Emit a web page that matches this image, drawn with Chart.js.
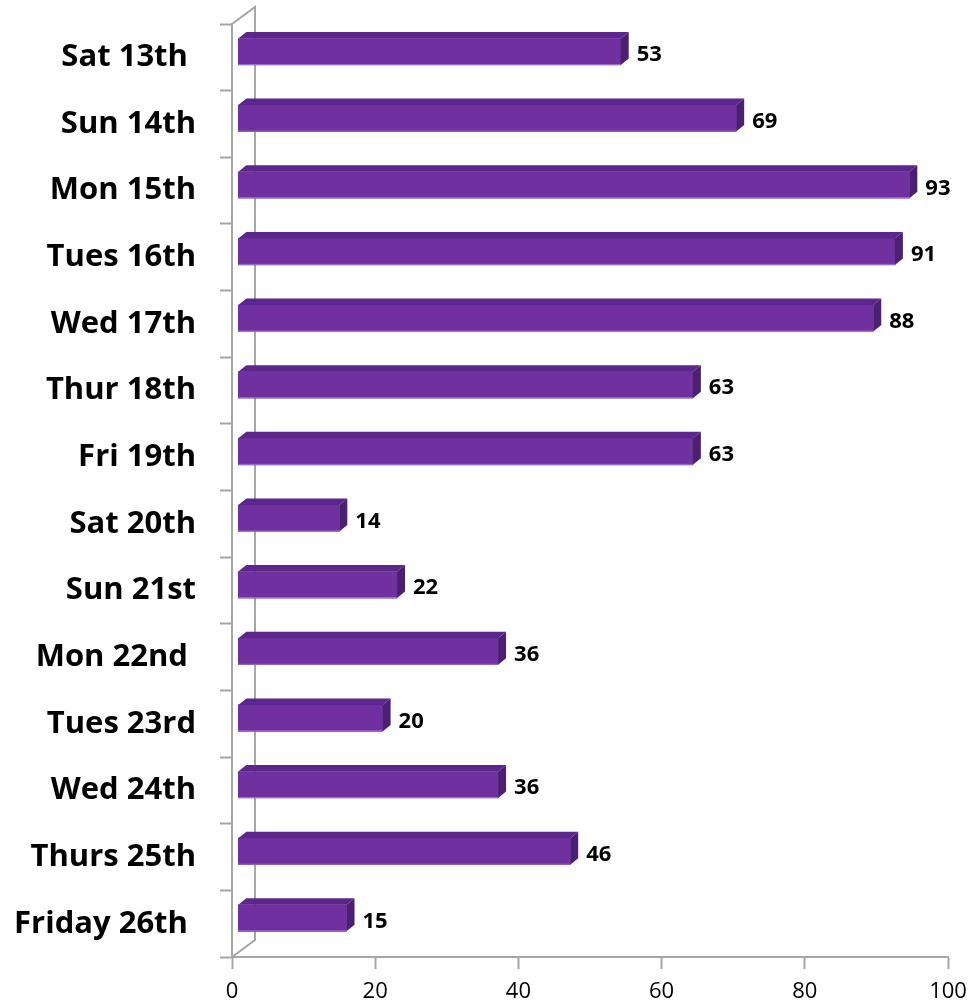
<!DOCTYPE html>
<html>
<head>
<meta charset="utf-8">
<title>Daily count</title>
<script src="https://cdn.jsdelivr.net/npm/chart.js@4/dist/chart.umd.min.js"></script>
<style>
  html, body { margin: 0; padding: 0; background: #ffffff; }
  #wrap { position: relative; width: 976px; height: 1003px; }
</style>
</head>
<body>
<div id="wrap"><canvas id="chart"></canvas></div>
<script>
// Day labels (trailing spaces are part of the original labels)
const categories = ['Sat 13th ', 'Sun 14th', 'Mon 15th', 'Tues 16th', 'Wed 17th', 'Thur 18th',
  'Fri 19th', 'Sat 20th', 'Sun 21st', 'Mon 22nd ', 'Tues 23rd', 'Wed 24th', 'Thurs 25th', 'Friday 26th '];
// Count per day
const values = [53, 69, 93, 91, 88, 63, 63, 14, 22, 36, 20, 36, 46, 15];
// Value axis ticks
const xTicks = [0, 20, 40, 60, 80, 100];

const FRONT = '#7030A0';
const TOP = '#5C278A';
const SIDE = '#4B1F72';
const AXIS = '#A6A6A6';
const BAR_DX = 8, BAR_DY = 6.5;      // depth of each 3D bar
const WALL_DX = 23, WALL_DY = 17;    // depth of the back wall

// Back wall edges of the 3D plot box, drawn behind the bars
const wallPlugin = {
  id: 'wall',
  beforeDatasetsDraw(chart) {
    const { ctx, chartArea: a } = chart;
    ctx.save();
    ctx.strokeStyle = AXIS;
    ctx.lineWidth = 2;
    ctx.beginPath();
    ctx.moveTo(a.left, a.top);
    ctx.lineTo(a.left + WALL_DX, a.top - WALL_DY);
    ctx.lineTo(a.left + WALL_DX, a.bottom - WALL_DY);
    ctx.lineTo(a.left, a.bottom);
    ctx.stroke();
    ctx.restore();
  }
};

// Top and side faces of the bars plus value labels
const boxPlugin = {
  id: 'box3d',
  afterDatasetsDraw(chart) {
    const { ctx } = chart;
    const meta = chart.getDatasetMeta(0);
    ctx.save();
    meta.data.forEach((bar, i) => {
      const p = bar.getProps(['x', 'y', 'base', 'height'], true);
      const top = p.y - p.height / 2;
      const bottom = p.y + p.height / 2;
      const x0 = p.base, x1 = p.x;
      // top face
      ctx.fillStyle = TOP;
      ctx.beginPath();
      ctx.moveTo(x0, top);
      ctx.lineTo(x0 + BAR_DX, top - BAR_DY);
      ctx.lineTo(x1 + BAR_DX, top - BAR_DY);
      ctx.lineTo(x1, top);
      ctx.closePath();
      ctx.fill();
      // side face
      ctx.fillStyle = SIDE;
      ctx.beginPath();
      ctx.moveTo(x1, top);
      ctx.lineTo(x1 + BAR_DX, top - BAR_DY);
      ctx.lineTo(x1 + BAR_DX, bottom - BAR_DY);
      ctx.lineTo(x1, bottom);
      ctx.closePath();
      ctx.fill();
      // light lower edge of the front face
      ctx.fillStyle = 'rgba(170,130,210,0.8)';
      ctx.fillRect(x0, bottom - 1, x1 - x0, 1);
      // value label
      ctx.fillStyle = '#000000';
      ctx.font = 'bold 22px "Open Sans", sans-serif';
      ctx.textAlign = 'left';
      ctx.textBaseline = 'alphabetic';
      ctx.fillText(String(values[i]), x1 + BAR_DX + 8, p.y + 9.5);
    });
    ctx.restore();
  }
};

new Chart(document.getElementById('chart'), {
  type: 'bar',
  data: {
    labels: categories,
    datasets: [{
      label: 'Count',
      data: values.map((v, i) => ({ x: v, y: i })),
      xAxisID: 'xBar',
      yAxisID: 'yBar',
      backgroundColor: FRONT,
      borderWidth: 0,
      barThickness: 26.5
    }]
  },
  options: {
    indexAxis: 'y',
    responsive: true,
    maintainAspectRatio: false,
    animation: false,
    layout: { padding: { top: 24, right: 28, left: 0, bottom: 0 } },
    plugins: {
      legend: { display: false },
      tooltip: { enabled: false }
    },
    scales: {
      x: {
        type: 'linear',
        position: 'bottom',
        min: 0,
        max: 100,
        afterBuildTicks: s => { s.ticks = xTicks.map(v => ({ value: v })); },
        afterFit: s => { s.height = 46; s.paddingLeft = 0; s.paddingRight = 0; },
        grid: { drawOnChartArea: false, tickLength: 12, tickColor: AXIS, tickWidth: 2 },
        border: { color: AXIS, width: 2 },
        ticks: { color: '#000000', padding: 10, font: { family: '"Open Sans", sans-serif', size: 22 } }
      },
      y: {
        type: 'category',
        position: 'left',
        offset: true,
        afterFit: s => { s.width = 232; s.paddingTop = 0; s.paddingBottom = 0; },
        grid: { offset: true, drawOnChartArea: false, tickLength: 12, tickColor: AXIS, tickWidth: 2 },
        border: { color: AXIS, width: 2 },
        ticks: { color: '#000000', padding: 24, autoSkip: false,
          font: { family: '"Open Sans", sans-serif', size: 31, weight: 'bold' } }
      },
      // bars stand on the mid-depth plane, a little behind and above the front axes
      xBar: { type: 'linear', display: false, offset: false, grace: 0, min: -0.873, max: 98.36 },
      yBar: { type: 'linear', display: false, offset: false, grace: 0, reverse: true, min: -0.416, max: 13.584 }
    }
  },
  plugins: [wallPlugin, boxPlugin]
});
</script>
</body>
</html>
